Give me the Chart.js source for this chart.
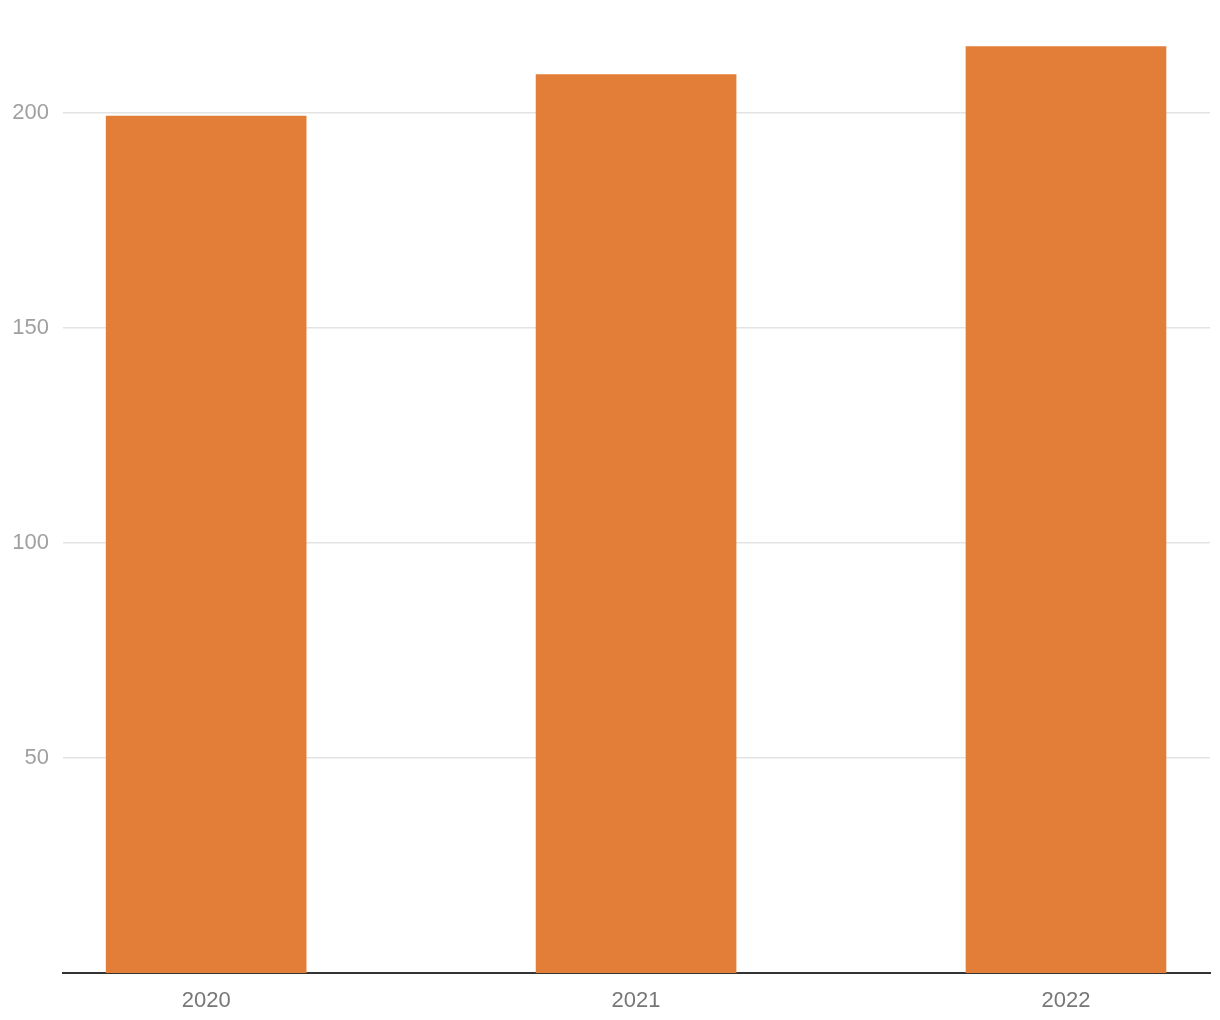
<!DOCTYPE html>
<html>
<head>
<meta charset="utf-8">
<script src="https://cdn.jsdelivr.net/npm/chart.js@4"></script>
<style>
  html, body { margin: 0; padding: 0; background: #fff; }
  #wrap { width: 1220px; height: 1020px; }
</style>
</head>
<body>
<div id="wrap"><canvas id="chart"></canvas></div>
<script>
// 資料
const years = [2020, 2021, 2022];
const values = [199.3, 209.0, 215.5];
const yTicks = [50, 100, 150, 200];
const xTicks = [2020, 2021, 2022];

Chart.defaults.font.family = "'Liberation Sans', Arial, sans-serif";
Chart.defaults.font.size = 22;

const ctx = document.getElementById('chart').getContext('2d');
new Chart(ctx, {
    type: 'bar',
    data: {
        datasets: [{
            data: years.map((y, i) => ({ x: y, y: values[i] })),
            backgroundColor: '#e27e38',
            borderWidth: 0,
            barThickness: 200
        }]
    },
    options: {
        responsive: true,
        maintainAspectRatio: false,
        animation: false,
        layout: { padding: { top: 25, right: 10, left: 0, bottom: 0 } },
        plugins: { legend: { display: false }, tooltip: { enabled: false } },
        scales: {
            x: {
                type: 'linear',
                offset: false,
                min: 2019.667,
                max: 2022.335,
                grid: { display: false, drawTicks: false },
                border: { display: true, color: '#333', width: 2 },
                ticks: {
                    color: '#777',
                    padding: 15,
                    callback: v => String(v)
                },
                afterBuildTicks: s => { s.ticks = xTicks.map(v => ({ value: v })); },
                afterFit: s => { s.height = 47; }
            },
            y: {
                min: 0,
                max: 220,
                grid: { color: '#e3e3e3', lineWidth: 1.5, drawTicks: false },
                border: { display: false },
                ticks: { color: '#a0a0a0', padding: 14 },
                afterBuildTicks: s => { s.ticks = yTicks.map(v => ({ value: v })); },
                afterFit: s => { s.width = 63; }
            }
        }
    }
});
</script>
</body>
</html>
